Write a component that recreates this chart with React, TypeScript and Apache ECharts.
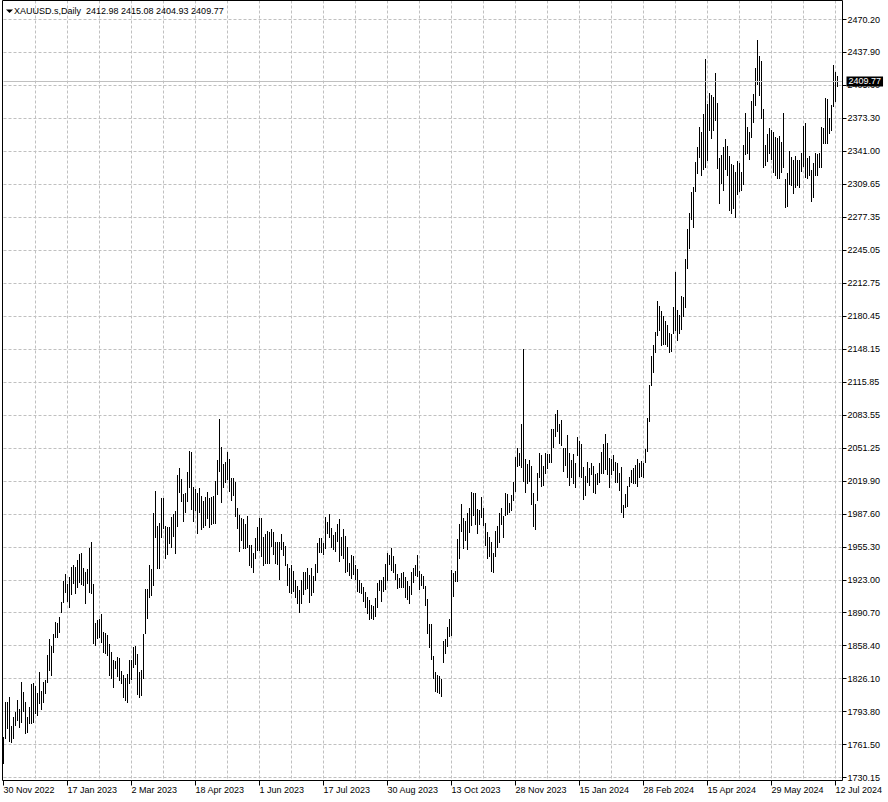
import React, { useEffect, useRef } from "react";
import * as echarts from "echarts";

const symbolName = "XAUUSD.s,Daily";
// O H L C of the last bar, shown in the header
const lastBar = [2412.98, 2415.08, 2404.93, 2409.77];

// one label every 32 daily bars, starting at the first bar
const dateLabels = [
  "30 Nov 2022", "17 Jan 2023", "2 Mar 2023", "18 Apr 2023", "1 Jun 2023",
  "17 Jul 2023", "30 Aug 2023", "13 Oct 2023", "28 Nov 2023", "15 Jan 2024",
  "28 Feb 2024", "15 Apr 2024", "29 May 2024", "12 Jul 2024",
];

// price scale labels, top to bottom
const priceLabels = [
  "2470.20", "2437.90", "2405.60", "2373.30", "2341.00", "2309.65", "2277.35", "2245.05",
  "2212.75", "2180.45", "2148.15", "2115.85", "2083.55", "2051.25", "2019.90", "1987.60",
  "1955.30", "1923.00", "1890.70", "1858.40", "1826.10", "1793.80", "1761.50", "1730.15",
];

const highs = [
  1770.0, 1804.1, 1804.1, 1809.0, 1780.4, 1789.5, 1794.4, 1805.8, 1796.7, 1823.7,
  1813.9, 1804.1, 1789.5, 1798.7, 1821.4, 1822.7, 1819.8, 1812.3, 1832.8, 1814.6,
  1823.7, 1825.3, 1849.7, 1865.3, 1858.5, 1870.2, 1881.6, 1880.7, 1886.5, 1901.5,
  1922.2, 1928.8, 1919.0, 1925.6, 1935.3, 1937.3, 1935.3, 1942.5, 1948.3, 1949.0,
  1934.4, 1931.0, 1933.4, 1954.2, 1960.0, 1919.0, 1880.7, 1883.9, 1884.9, 1889.7,
  1871.9, 1870.9, 1869.2, 1860.5, 1852.9, 1844.8, 1844.2, 1847.5, 1846.5, 1834.4,
  1830.2, 1827.0, 1830.9, 1844.8, 1844.8, 1857.8, 1858.5, 1850.7, 1833.1, 1835.1,
  1870.2, 1913.9, 1913.9, 1937.6, 1933.4, 1988.0, 2010.1, 1975.6, 1978.3, 2002.7,
  2003.2, 1975.6, 1975.0, 1974.4, 1984.1, 1987.4, 1990.3, 2025.4, 2032.0, 2021.2,
  2006.9, 2007.6, 2028.6, 2048.8, 2047.6, 2013.4, 2011.5, 2007.6, 2012.4, 2004.9,
  2000.0, 2004.2, 2009.1, 2002.7, 2003.7, 2004.9, 2019.6, 2040.1, 2080.1, 2053.0,
  2035.9, 2038.4, 2047.6, 2040.7, 2022.2, 2022.2, 2018.9, 1992.9, 1986.4, 1983.2,
  1982.2, 1977.6, 1985.4, 1957.1, 1957.1, 1949.6, 1963.6, 1975.0, 1983.2, 1983.4,
  1964.6, 1967.8, 1970.8, 1970.1, 1972.4, 1970.1, 1960.3, 1960.3, 1960.3, 1967.8,
  1960.3, 1956.1, 1938.3, 1934.4, 1937.6, 1932.0, 1922.9, 1917.1, 1913.2, 1922.9,
  1931.0, 1931.0, 1934.4, 1927.8, 1934.4, 1926.8, 1938.5, 1959.3, 1963.6, 1963.6,
  1959.3, 1984.1, 1979.8, 1987.4, 1973.4, 1966.9, 1970.1, 1977.6, 1982.2, 1964.6,
  1972.4, 1965.9, 1954.8, 1939.8, 1947.3, 1946.4, 1937.6, 1933.4, 1922.9, 1919.7,
  1915.8, 1911.5, 1906.6, 1903.4, 1898.5, 1897.6, 1905.1, 1919.7, 1922.9, 1922.9,
  1925.6, 1938.5, 1949.0, 1947.3, 1953.9, 1946.4, 1938.5, 1928.8, 1924.6, 1930.1,
  1931.0, 1925.6, 1922.2, 1917.1, 1931.0, 1934.4, 1937.6, 1947.3, 1932.0, 1928.8,
  1926.8, 1917.1, 1904.1, 1880.0, 1880.0, 1848.7, 1833.4, 1830.2, 1829.2, 1826.0,
  1863.7, 1865.0, 1876.8, 1884.6, 1932.7, 1929.5, 1932.0, 1962.7, 1977.6, 1997.1,
  1983.2, 1980.8, 1988.6, 1992.9, 2009.1, 2007.6, 2008.1, 1991.9, 1991.3, 2004.2,
  1992.9, 1978.9, 1970.1, 1965.2, 1960.3, 1949.6, 1971.0, 1975.6, 1988.6, 1992.9,
  1985.4, 2007.6, 2006.9, 1998.4, 2005.9, 2018.9, 2043.3, 2051.5, 2047.2, 2075.7,
  2148.1, 2040.7, 2036.2, 2040.1, 2034.2, 2008.1, 1997.1, 2027.7, 2047.2, 2044.9,
  2034.2, 2046.6, 2045.9, 2045.9, 2070.0, 2070.0, 2085.0, 2088.9, 2075.2, 2079.1,
  2051.5, 2051.5, 2064.5, 2046.6, 2040.1, 2045.9, 2037.4, 2062.8, 2058.9, 2055.7,
  2033.5, 2024.4, 2038.4, 2032.0, 2037.4, 2034.2, 2026.4, 2027.7, 2037.4, 2048.2,
  2055.7, 2065.4, 2056.9, 2041.7, 2040.7, 2044.9, 2038.4, 2036.8, 2027.7, 2033.2,
  1996.1, 2006.9, 2014.7, 2023.2, 2030.3, 2032.0, 2035.2, 2040.7, 2037.1, 2039.4,
  2037.4, 2050.5, 2081.1, 2113.3, 2141.6, 2152.3, 2165.0, 2195.3, 2190.4, 2185.5,
  2180.6, 2175.7, 2171.8, 2164.3, 2163.5, 2189.7, 2223.8, 2186.5, 2181.6, 2200.1,
  2198.9, 2235.9, 2265.2, 2281.4, 2301.9, 2306.2, 2331.2, 2345.3, 2364.8, 2360.5,
  2377.8, 2431.2, 2387.5, 2398.6, 2396.3, 2394.4, 2417.8, 2388.8, 2334.8, 2337.8,
  2345.3, 2353.1, 2346.5, 2336.8, 2329.0, 2328.0, 2321.5, 2332.2, 2330.2, 2321.5,
  2347.5, 2378.5, 2364.8, 2360.5, 2390.8, 2397.3, 2422.4, 2450.0, 2434.4, 2429.8,
  2383.3, 2347.5, 2358.3, 2363.8, 2362.8, 2360.5, 2355.6, 2354.1, 2356.3, 2350.7,
  2378.5, 2314.0, 2320.5, 2342.0, 2336.1, 2332.9, 2336.8, 2332.9, 2332.9, 2340.0,
  2366.1, 2368.7, 2334.5, 2336.8, 2323.1, 2330.2, 2339.4, 2338.7, 2339.4, 2364.8,
  2363.8, 2393.1, 2392.1, 2373.6, 2386.6, 2425.6, 2419.1, 2415.08,
];

const lows = [
  1744.6, 1768.4, 1778.2, 1766.1, 1765.1, 1768.4, 1781.4, 1786.3, 1779.7, 1784.6,
  1795.4, 1773.3, 1774.9, 1783.1, 1783.6, 1784.6, 1792.8, 1791.2, 1802.6, 1796.7,
  1804.1, 1812.9, 1823.7, 1835.1, 1829.9, 1852.9, 1867.0, 1867.0, 1872.5, 1892.0,
  1901.2, 1911.5, 1902.7, 1896.3, 1909.3, 1919.7, 1910.5, 1916.4, 1921.3, 1919.0,
  1918.0, 1900.2, 1920.3, 1911.5, 1910.5, 1861.1, 1859.5, 1866.0, 1867.6, 1862.7,
  1852.9, 1851.4, 1849.7, 1830.2, 1827.0, 1818.8, 1836.7, 1829.2, 1825.3, 1822.1,
  1809.0, 1805.8, 1804.1, 1822.7, 1826.0, 1838.3, 1840.9, 1812.0, 1809.2, 1810.7,
  1827.0, 1870.9, 1885.5, 1906.6, 1908.3, 1918.0, 1965.2, 1934.4, 1934.4, 1964.6,
  1974.0, 1944.1, 1948.3, 1958.8, 1955.4, 1965.9, 1949.6, 1975.6, 2009.1, 2000.3,
  1980.8, 1989.6, 2000.3, 2013.4, 1991.9, 1980.8, 1991.3, 1968.5, 1989.6, 1972.4,
  1975.0, 1976.6, 1983.2, 1975.0, 1977.6, 1978.9, 1978.3, 2006.9, 2029.6, 1999.4,
  2014.0, 2018.9, 2021.2, 2010.1, 2001.0, 2005.9, 1985.4, 1973.4, 1951.5, 1962.0,
  1953.9, 1953.9, 1955.4, 1937.6, 1935.9, 1931.0, 1944.1, 1952.2, 1952.2, 1946.4,
  1937.6, 1939.2, 1939.2, 1939.2, 1956.1, 1948.3, 1939.2, 1938.5, 1923.9, 1952.9,
  1947.3, 1937.6, 1918.0, 1911.5, 1909.9, 1912.5, 1906.6, 1900.2, 1892.0, 1900.8,
  1909.3, 1913.9, 1914.8, 1901.7, 1908.3, 1911.5, 1922.9, 1931.0, 1950.6, 1950.6,
  1948.3, 1953.9, 1969.1, 1964.6, 1955.4, 1952.9, 1951.5, 1961.3, 1941.8, 1947.3,
  1944.1, 1931.0, 1932.0, 1927.8, 1924.6, 1928.8, 1923.6, 1912.5, 1911.5, 1910.5,
  1902.7, 1896.3, 1890.4, 1884.6, 1885.5, 1884.6, 1887.8, 1896.9, 1913.2, 1902.7,
  1912.5, 1913.9, 1922.9, 1938.5, 1933.2, 1930.7, 1924.1, 1914.8, 1916.4, 1916.4,
  1915.8, 1906.6, 1904.1, 1900.8, 1909.3, 1921.3, 1927.8, 1926.8, 1913.9, 1918.0,
  1914.8, 1898.5, 1871.5, 1857.2, 1845.5, 1827.0, 1814.9, 1813.9, 1812.3, 1809.7,
  1843.2, 1852.0, 1858.5, 1868.3, 1869.2, 1907.3, 1922.2, 1922.2, 1944.1, 1971.0,
  1953.9, 1962.0, 1952.9, 1970.1, 1976.6, 1986.4, 1977.6, 1969.1, 1977.6, 1984.7,
  1976.6, 1957.1, 1944.1, 1946.4, 1932.0, 1931.0, 1946.4, 1955.4, 1960.3, 1977.6,
  1965.2, 1986.4, 1987.4, 1989.6, 1991.3, 2001.0, 2010.1, 2034.2, 2035.2, 2033.5,
  2020.0, 2009.1, 2017.6, 2020.0, 1997.1, 1975.6, 1972.4, 2001.0, 2023.8, 2014.7,
  2015.7, 2027.1, 2032.0, 2038.4, 2038.4, 2053.0, 2063.5, 2068.7, 2056.9, 2054.7,
  2029.6, 2035.2, 2023.8, 2015.7, 2023.2, 2017.9, 2013.4, 2044.9, 2024.4, 2023.8,
  2001.7, 2005.9, 2018.9, 2015.7, 2026.4, 2009.1, 2008.1, 2016.6, 2018.9, 2027.1,
  2027.7, 2031.0, 2026.4, 2014.0, 2026.4, 2030.3, 2018.9, 2018.9, 2010.8, 1989.6,
  1984.1, 1994.5, 1995.2, 2014.7, 2018.9, 2017.6, 2017.9, 2014.7, 2023.8, 2024.4,
  2023.8, 2038.4, 2048.8, 2078.1, 2113.3, 2126.0, 2145.5, 2162.1, 2166.9, 2152.3,
  2153.3, 2153.3, 2151.3, 2145.8, 2146.9, 2164.0, 2166.9, 2157.2, 2163.7, 2167.9,
  2180.6, 2189.7, 2227.2, 2246.7, 2275.0, 2267.8, 2302.9, 2320.5, 2336.1, 2318.2,
  2324.1, 2325.8, 2332.9, 2362.2, 2354.3, 2362.2, 2371.9, 2324.8, 2291.2, 2310.7,
  2303.6, 2323.8, 2318.2, 2284.1, 2281.4, 2285.7, 2276.9, 2299.7, 2302.9, 2303.6,
  2309.4, 2338.7, 2339.4, 2333.6, 2355.6, 2370.3, 2386.6, 2407.7, 2396.3, 2373.6,
  2326.3, 2328.0, 2332.2, 2339.4, 2333.6, 2321.5, 2318.2, 2315.0, 2315.0, 2321.5,
  2326.3, 2286.7, 2288.0, 2309.4, 2308.5, 2301.0, 2306.8, 2308.5, 2306.8, 2322.4,
  2327.0, 2316.6, 2315.0, 2318.2, 2293.1, 2297.1, 2318.2, 2318.2, 2325.8, 2326.3,
  2349.8, 2349.8, 2349.8, 2358.9, 2362.2, 2385.6, 2390.8, 2404.93,
];

const PRICE_MAX = 2470.2;
const PRICE_MIN = 1730.15;
const BARS_PER_LABEL = 32;
const BARS_PER_GRID = 16;

export default function App() {
  const ref = useRef<HTMLDivElement>(null);

  useEffect(() => {
    document.body.style.margin = "0";
    const el = ref.current;
    if (!el) return;
    const chart = echarts.init(el, null, { renderer: "svg" });

    const font = "Liberation Sans";
    const xMax = 419.5; // frame extends a little past the last bar
    const gridStroke = { color: "#c0c0c0", type: [3, 2] as number[], width: 1 };
    const labelValues = dateLabels.map((_, k) => k * BARS_PER_LABEL);
    const data = highs.map((h, i) => [i, h, lows[i]]);
    const nLevels = priceLabels.length - 1;

    const option: any = {
      animation: false,
      backgroundColor: "#ffffff",
      grid: [
        { left: 3.5, top: 19.5, width: 839, height: 758 },
        { left: 3.5, top: 0.5, width: 839, height: 780 },
      ],
      xAxis: [
        { gridIndex: 0, type: "value", min: 0, max: xMax, show: false },
        {
          gridIndex: 1, type: "value", min: 0, max: xMax, interval: BARS_PER_GRID,
          axisLine: { show: false }, axisTick: { show: false }, axisLabel: { show: false },
          splitLine: { show: true, showMinLine: false, showMaxLine: false, lineStyle: gridStroke },
        },
        {
          gridIndex: 1, type: "value", position: "bottom", min: 0, max: xMax, interval: BARS_PER_LABEL,
          axisLine: { show: false },
          axisTick: { show: true, length: 5, customValues: labelValues, lineStyle: { color: "#000", width: 1 } },
          axisLabel: {
            show: true, customValues: labelValues, margin: 5, color: "#000", fontSize: 9,
            fontFamily: font, align: "left", showMaxLabel: true, showMinLabel: true, hideOverlap: false,
            formatter: (v: number) => {
              const k = Math.round(v / BARS_PER_LABEL);
              return Math.abs(v - k * BARS_PER_LABEL) < 1e-6 && dateLabels[k] ? dateLabels[k] : "";
            },
          },
          splitLine: { show: false },
        },
      ],
      yAxis: [
        { gridIndex: 0, type: "value", min: PRICE_MIN, max: PRICE_MAX, show: false },
        {
          gridIndex: 0, type: "value", position: "right", min: 0, max: nLevels, interval: 1,
          axisLine: { show: false },
          axisTick: { show: true, length: 4, lineStyle: { color: "#000", width: 1 } },
          axisLabel: {
            show: true, margin: 5, color: "#000", fontSize: 9, fontFamily: font,
            formatter: (v: number) => priceLabels[nLevels - Math.round(v)] ?? "",
          },
          splitLine: { show: true, lineStyle: gridStroke },
        },
        { gridIndex: 1, type: "value", min: 0, max: 1, show: false },
      ],
      graphic: [
        {
          type: "rect", silent: true, z: 100,
          shape: { x: 2.5, y: 0.5, width: 840, height: 780 },
          style: { fill: "none", stroke: "#000", lineWidth: 1 },
        },
        {
          type: "polygon", silent: true, z: 100,
          shape: { points: [[6, 9.5], [13, 9.5], [9.5, 13]] },
          style: { fill: "#000" },
        },
        {
          type: "text", silent: true, z: 100, x: 14, y: 11,
          style: {
            text: `${symbolName}  ${lastBar.map((v) => v.toFixed(2)).join(" ")}`,
            fill: "#000", font: `9px "${font}"`, verticalAlign: "middle", align: "left",
          },
        },
      ],
      series: [
        {
          type: "line", xAxisIndex: 0, yAxisIndex: 0, data: [], z: 1, silent: true,
          markLine: {
            silent: true, symbol: ["none", "none"], animation: false,
            lineStyle: { color: "#c0c0c0", type: "solid", width: 1 },
            label: {
              show: true, position: "end", distance: 4,
              formatter: lastBar[3].toFixed(2), color: "#fff", backgroundColor: "#000",
              padding: [1, 2, 0, 2], fontSize: 9, lineHeight: 9, fontFamily: font,
            },
            emphasis: { disabled: true },
            data: [{ yAxis: lastBar[3] }],
          },
        },
        {
          type: "custom", xAxisIndex: 0, yAxisIndex: 0, z: 2, silent: true,
          dimensions: ["idx", "high", "low"],
          encode: { x: 0, y: [1, 2] },
          data,
          renderItem: (_params: any, api: any) => {
            const i = api.value(0);
            const top = api.coord([i, api.value(1)]);
            const bot = api.coord([i, api.value(2)]);
            const px = Math.round(top[0] - 0.5) + 0.5;
            return {
              type: "line",
              shape: { x1: px, y1: Math.round(top[1]), x2: px, y2: Math.round(bot[1]) + 1 },
              style: { stroke: "#000", lineWidth: 1 },
            };
          },
        },
      ],
    };

    chart.setOption(option);
    return () => chart.dispose();
  }, []);

  return <div ref={ref} style={{ width: 888, height: 802 }} />;
}
